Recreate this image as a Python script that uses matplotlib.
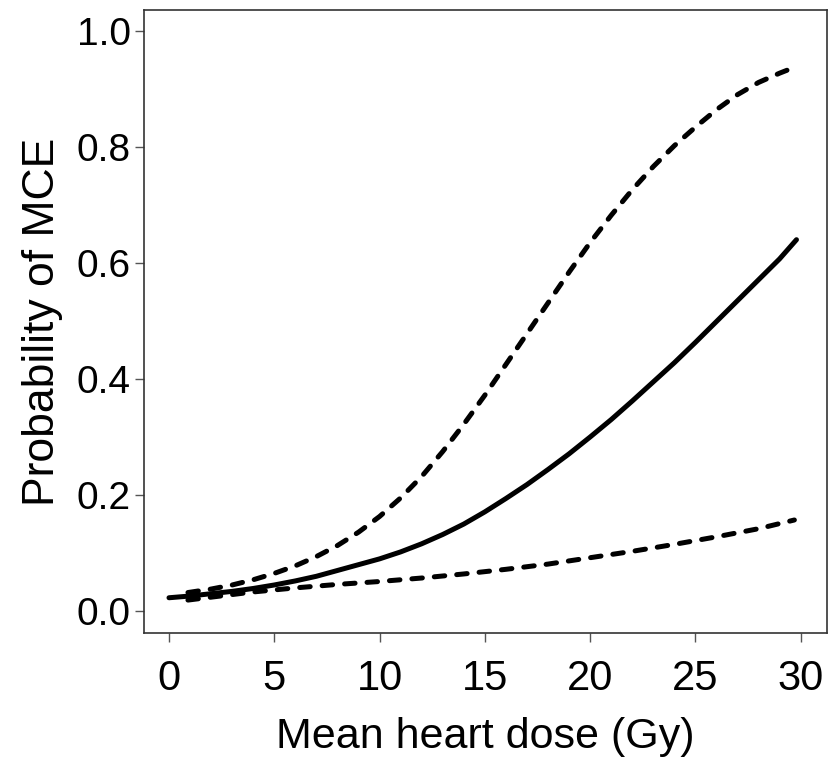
import matplotlib
matplotlib.use('Agg')
import matplotlib.pyplot as plt

# values
dose_fit = [0, 1, 2, 3, 4, 5, 6, 7, 8, 9, 10, 11, 12, 13, 14, 15, 16, 17, 18,
            19, 20, 21, 22, 23, 24, 25, 26, 27, 28, 29, 29.8]
prob_fit = [0.023, 0.026, 0.030, 0.034, 0.039, 0.045, 0.052, 0.060, 0.070,
            0.080, 0.090, 0.102, 0.116, 0.132, 0.150, 0.171, 0.194, 0.218,
            0.244, 0.271, 0.300, 0.330, 0.362, 0.395, 0.428, 0.463, 0.499,
            0.535, 0.571, 0.607, 0.640]

dose_upper = [0.9, 2, 3, 4, 5, 6, 7, 8, 9, 10, 11, 12, 13, 14, 15, 16, 17,
              18, 19, 20, 21, 22, 23, 24, 25, 26, 27, 28, 29, 29.7]
prob_upper = [0.032, 0.038, 0.045, 0.054, 0.065, 0.078, 0.094, 0.113, 0.136,
              0.163, 0.195, 0.232, 0.275, 0.322, 0.372, 0.425, 0.478, 0.531,
              0.584, 0.635, 0.682, 0.726, 0.766, 0.802, 0.834, 0.864, 0.890,
              0.911, 0.927, 0.937]

dose_lower = [0.9, 2, 4, 6, 8, 10, 12, 14, 16, 18, 20, 22, 24, 26, 28, 29.7]
prob_lower = [0.019, 0.024, 0.033, 0.040, 0.046, 0.051, 0.057, 0.064, 0.072,
              0.081, 0.092, 0.103, 0.115, 0.128, 0.142, 0.157]

x_ticks = [0, 5, 10, 15, 20, 25, 30]
y_ticks = [0.0, 0.2, 0.4, 0.6, 0.8, 1.0]

plt.rcParams['font.family'] = ['Liberation Sans', 'DejaVu Sans']

fig = plt.figure(figsize=(8.32, 7.61), dpi=100)
ax = fig.add_axes([0.173, 0.168, 0.821, 0.819])

lw = 3.6
ax.plot(dose_fit, prob_fit, color='black', lw=lw, solid_capstyle='round',
        solid_joinstyle='round')
for xs, ys in [(dose_upper, prob_upper), (dose_lower, prob_lower)]:
    ax.plot(xs, ys, color='black', lw=lw, linestyle=(0, (2.1, 2.4)),
            dash_capstyle='round', dash_joinstyle='round')

ax.set_xlim(-1.19, 31.25)
ax.set_ylim(-0.038, 1.036)
ax.set_xticks(x_ticks)
ax.set_xticklabels([str(t) for t in x_ticks])
ax.set_yticks(y_ticks)
ax.set_yticklabels(['%.1f' % t for t in y_ticks])

for s in ax.spines.values():
    s.set_color('#333333')
    s.set_linewidth(1.2)
ax.tick_params(direction='out', length=6.5, width=1, color='#555555')
ax.tick_params(axis='x', labelsize=30, pad=12)
ax.tick_params(axis='y', labelsize=28, pad=3)

ax.set_xlabel('Mean heart dose (Gy)', fontsize=31, labelpad=13)
ax.set_ylabel('Probability of MCE', fontsize=32, labelpad=10)

fig.savefig('out.png', dpi=100)
